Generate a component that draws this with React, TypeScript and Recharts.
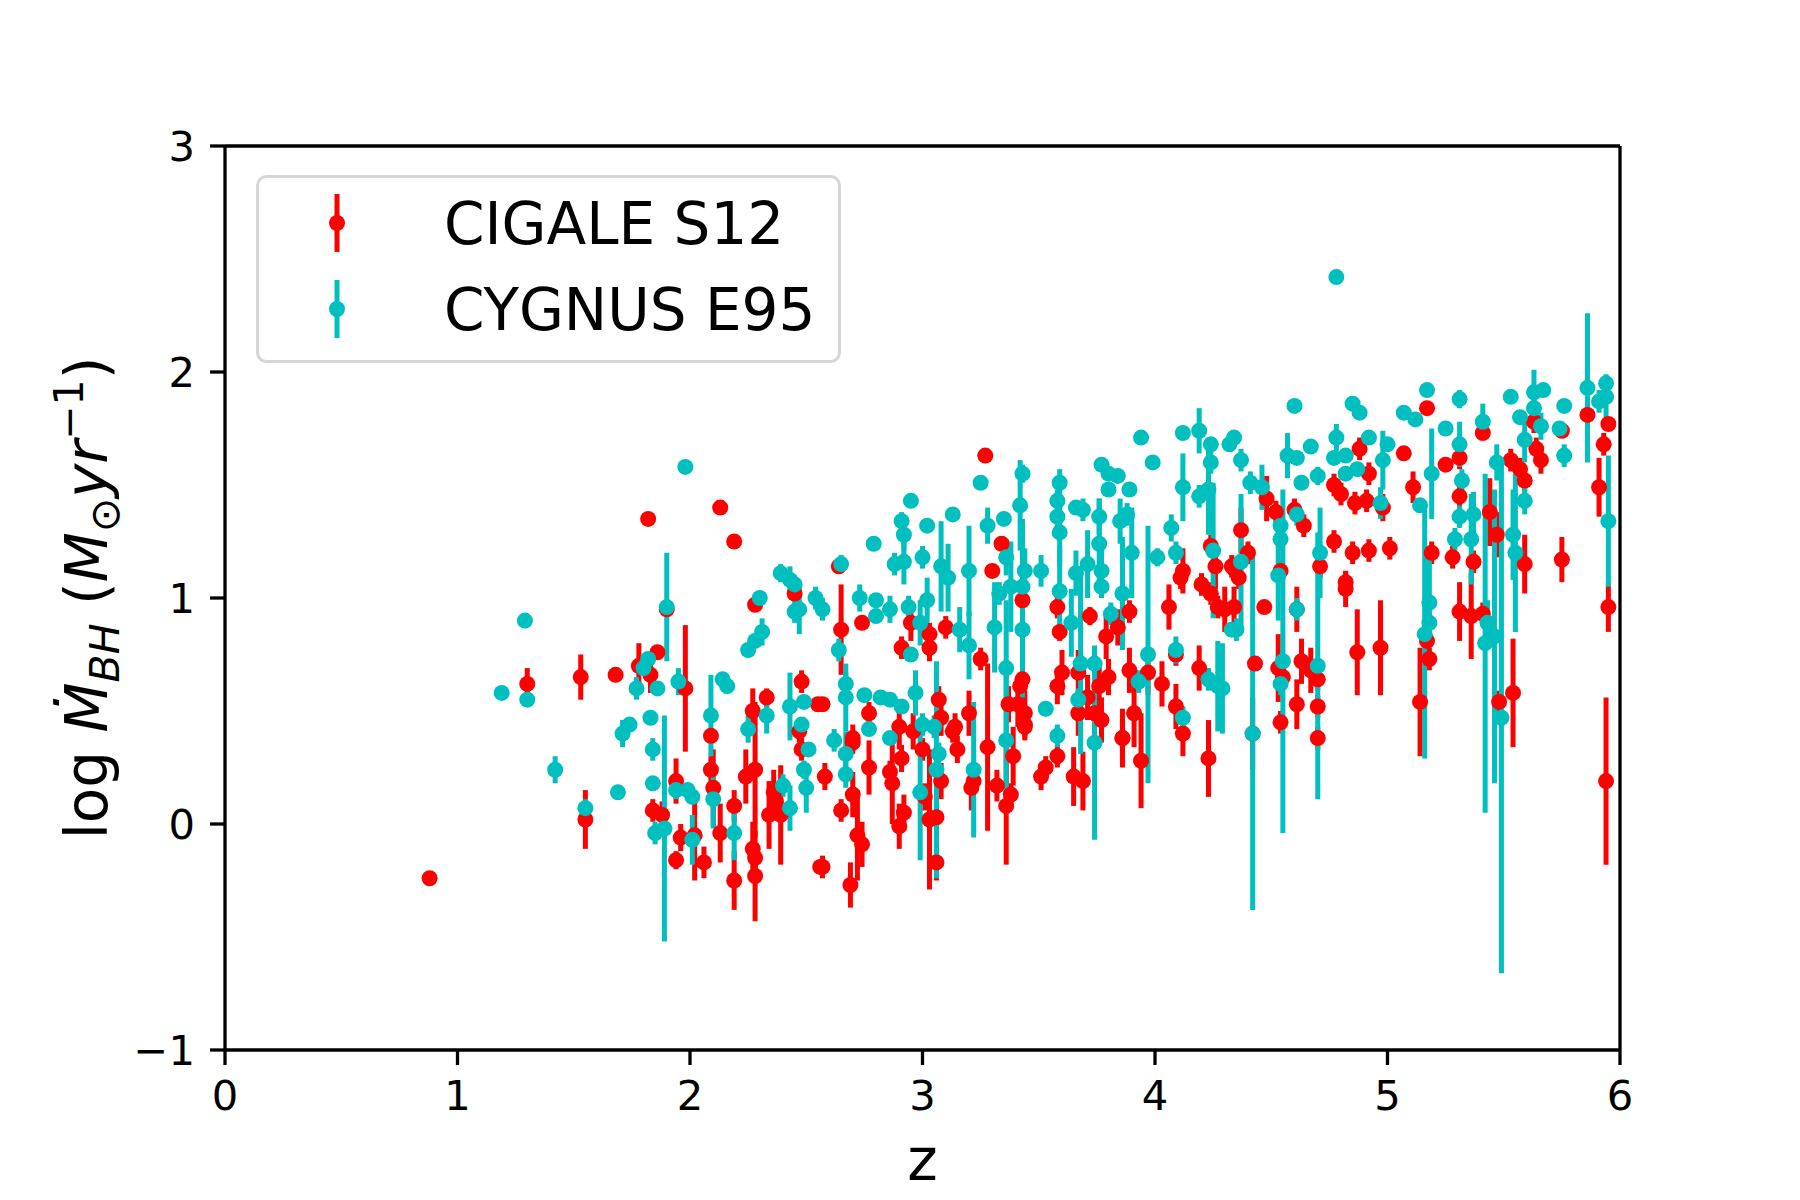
import React from 'react';
import { ScatterChart, Scatter, XAxis, YAxis, ErrorBar, Legend } from 'recharts';

// [z, log Mdot_BH, 1-sigma error]
const cigaleS12: [number, number, number][] = [
  [1.82, 1.35, 0.03], [2.13, 1.40, 0], [2.19, 1.25, 0], [1.30, 0.62, 0.07], [1.53, 0.65, 0.1],
  [1.68, 0.66, 0], [1.90, 0.95, 0.03], [1.86, 0.76, 0.03], [1.78, 0.70, 0.1], [1.83, 0.66, 0.08],
  [1.98, 0.60, 0.28], [2.09, 0.39, 0.03], [2.33, 0.56, 0.04], [2.27, 0.50, 0.1], [2.28, 0.97, 0],
  [2.45, 1.02, 0.03], [2.48, 0.63, 0.05], [2.55, 0.53, 0.02],
  [0.88, -0.24, 0], [1.55, 0.02, 0.13], [1.84, 0.06, 0.05], [1.88, 0.04, 0.06], [1.94, 0.19, 0.1],
  [1.96, -0.06, 0.06], [1.94, -0.16, 0.04], [2.02, -0.05, 0.2], [2.06, -0.17, 0.07], [2.09, 0.24, 0.06],
  [2.10, 0.16, 0.17], [2.13, -0.04, 0.13], [2.19, 0.08, 0.07], [2.19, -0.25, 0.13], [2.24, 0.21, 0.12],
  [2.28, 0.24, 0.3], [2.27, -0.11, 0.12], [2.28, -0.15, 0.05], [2.28, -0.23, 0.2], [2.36, 0.14, 0.1],
  [2.34, 0.04, 0.15], [2.39, 0.04, 0.22], [2.37, 0.10, 0.05], [2.48, 0.33, 0.05], [2.56, -0.19, 0.03],
  [2.47, 0.41, 0.05],
  [3.27, 1.63, 0], [2.64, 1.14, 0], [3.34, 1.24, 0], [3.30, 1.12, 0], [3.43, 0.99, 0.05],
  [3.58, 0.96, 0.05], [3.59, 0.85, 0.04], [3.72, 0.92, 0.04], [3.79, 0.83, 0.1], [3.84, 0.87, 0.08],
  [3.89, 0.94, 0.05], [2.65, 0.86, 0.2], [2.74, 0.89, 0.03], [2.95, 0.89, 0.08], [2.91, 0.78, 0.05],
  [3.03, 0.78, 0.06], [3.03, 0.84, 0.05], [3.10, 0.87, 0.05], [3.25, 0.73, 0.05], [4.24, 1.23, 0.05],
  [4.12, 1.12, 0.1], [4.11, 1.09, 0.05], [4.26, 1.14, 0.1], [4.20, 1.06, 0.05], [4.24, 1.02, 0.05],
  [4.27, 0.96, 0.05], [4.33, 1.14, 0.05], [4.06, 0.96, 0.1], [4.19, 0.69, 0.1], [4.09, 0.75, 0.05],
  [4.09, 0.52, 0.1], [3.97, 0.67, 0.1], [4.03, 0.62, 0.1], [3.89, 0.68, 0.1], [3.80, 0.65, 0.08],
  [3.76, 0.61, 0.1], [3.71, 0.56, 0.1], [3.67, 0.67, 0.1], [3.58, 0.61, 0.08], [3.60, 0.67, 0.1],
  [3.43, 0.64, 0.05], [3.42, 0.61, 0.06], [3.37, 0.53, 0.08], [3.44, 0.49, 0.1], [3.44, 0.44, 0.06],
  [3.41, 0.53, 0.1], [3.20, 0.49, 0.1], [3.14, 0.43, 0.06], [3.07, 0.55, 0.06], [3.08, 0.47, 0.08],
  [2.96, 0.41, 0.08], [2.90, 0.43, 0.1], [2.77, 0.49, 0.05], [2.70, 0.38, 0.06], [2.57, 0.53, 0.03],
  [3.74, 0.49, 0.1], [3.77, 0.46, 0.1], [3.67, 0.49, 0.1], [3.91, 0.49, 0.15], [3.86, 0.38, 0.1],
  [4.12, 0.40, 0.1],
  [2.58, 0.21, 0.06], [2.72, -0.05, 0.2], [2.74, -0.09, 0.1], [2.70, 0.13, 0.1], [2.65, 0.06, 0.05],
  [2.57, -0.19, 0.05], [2.69, -0.27, 0.1], [2.77, 0.25, 0.12], [2.86, 0.23, 0.05], [2.87, 0.18, 0.18],
  [2.91, 0.29, 0.06], [2.92, 0.05, 0.08], [2.90, -0.01, 0.1], [3.01, 0.12, 0.06], [3.03, 0.02, 0.31],
  [3.06, 0.03, 0.08], [3.06, -0.17, 0.08], [3.08, 0.19, 0.08], [3.00, 0.33, 0.05], [3.15, 0.33, 0.06],
  [3.13, 0.41, 0.05], [3.21, 0.16, 0.1], [3.22, 0.19, 0.05], [3.28, 0.34, 0.37], [3.32, 0.17, 0.07],
  [3.38, 0.13, 0.05], [3.36, 0.08, 0.26], [3.39, 0.30, 0.13], [3.44, 0.43, 0.06], [3.51, 0.21, 0.06],
  [3.53, 0.25, 0.05], [3.58, 0.30, 0.05], [3.65, 0.21, 0.13], [3.69, 0.19, 0.13], [3.86, 0.38, 0.13],
  [3.94, 0.28, 0.21], [4.23, 0.29, 0.17], [2.70, 0.36, 0.05],
  [5.17, 1.84, 0.03], [5.41, 1.73, 0.03], [5.07, 1.64, 0], [5.25, 1.59, 0.03], [5.31, 1.62, 0.05],
  [5.86, 1.81, 0.05], [5.95, 1.77, 0.03], [5.93, 1.68, 0.05], [5.91, 1.49, 0.13], [5.63, 1.78, 0.05],
  [5.75, 1.74, 0.03], [5.64, 1.66, 0.05], [5.66, 1.61, 0.06], [5.53, 1.61, 0.05], [5.57, 1.57, 0.05],
  [5.59, 1.52, 0.05], [5.44, 1.38, 0.15], [5.47, 1.28, 0.1], [5.31, 1.45, 0.05], [5.11, 1.49, 0.07],
  [4.88, 1.66, 0.05], [4.92, 1.55, 0.05], [4.80, 1.46, 0.05], [4.86, 1.42, 0.05], [4.91, 1.43, 0.05],
  [4.98, 1.40, 0.06], [4.77, 1.50, 0.05], [4.48, 1.44, 0.1], [4.52, 1.38, 0.05], [4.60, 1.39, 0.05],
  [4.64, 1.32, 0.05], [4.37, 1.30, 0.1], [4.40, 1.20, 0.05], [4.77, 1.25, 0.05], [4.85, 1.20, 0.05],
  [4.92, 1.21, 0.05], [5.01, 1.22, 0.05], [5.19, 1.20, 0.05], [5.75, 1.17, 0.1],
  [4.36, 1.09, 0.05], [4.34, 1.13, 0.05], [4.34, 0.96, 0.09], [4.30, 0.95, 0.1], [4.47, 0.96, 0.03],
  [4.54, 1.12, 0.05], [4.43, 0.71, 0.03], [4.53, 0.69, 0.15], [4.55, 0.65, 0.05], [4.63, 0.72, 0.1],
  [4.67, 0.68, 0.1], [4.70, 0.64, 0.05], [4.61, 0.53, 0.11], [4.70, 0.52, 0.05], [4.54, 0.45, 0.05],
  [4.70, 0.38, 0.05], [4.61, 0.95, 0.1], [4.42, 0.40, 0.16], [4.71, 1.14, 0.05], [4.82, 1.07, 0.05],
  [4.82, 1.04, 0.08], [4.87, 0.76, 0.19], [4.97, 0.78, 0.21], [5.28, 1.18, 0.05], [5.37, 1.16, 0.05],
  [5.59, 1.15, 0.13], [5.31, 0.94, 0.13], [5.36, 0.92, 0.19], [5.41, 0.93, 0.05], [5.17, 0.81, 0.05],
  [5.18, 0.73, 0.05], [5.14, 0.54, 0.24], [5.48, 0.54, 0.05], [5.54, 0.58, 0.24], [5.95, 0.96, 0.11],
  [5.94, 0.19, 0.37],
];

const cygnusE95: [number, number, number][] = [
  [1.98, 1.58, 0], [1.29, 0.90, 0], [1.19, 0.58, 0], [1.30, 0.55, 0.03], [1.90, 0.96, 0.24],
  [1.82, 0.73, 0.03], [1.80, 0.69, 0.03], [1.77, 0.60, 0.05], [1.86, 0.60, 0.03], [1.95, 0.63, 0.06],
  [2.09, 0.48, 0.18], [2.14, 0.64, 0.03], [2.16, 0.61, 0.03], [2.33, 0.48, 0.08], [2.25, 0.42, 0.06],
  [2.25, 0.77, 0.03], [2.28, 0.81, 0.03], [2.31, 0.85, 0.06], [2.30, 1.00, 0], [2.39, 1.11, 0.04],
  [2.43, 1.08, 0.06], [2.45, 1.06, 0.04], [2.45, 0.94, 0.05], [2.47, 0.95, 0.11], [2.54, 1.00, 0.05],
  [1.71, 0.40, 0.06], [1.74, 0.44, 0.03], [1.83, 0.47, 0.03], [2.43, 0.52, 0.15], [2.48, 0.44, 0.03],
  [2.49, 0.54, 0.03],
  [1.42, 0.24, 0.06], [1.55, 0.07, 0.04], [1.69, 0.14, 0], [1.84, 0.18, 0.03], [1.84, 0.33, 0.05],
  [1.89, -0.02, 0.5], [1.85, -0.04, 0.05], [1.94, 0.15, 0.04], [1.99, 0.15, 0.03], [2.01, 0.12, 0.03],
  [2.01, -0.07, 0.11], [2.10, 0.11, 0.13], [2.19, -0.04, 0.12], [2.40, 0.17, 0.05], [2.43, 0.07, 0.1],
  [2.49, 0.24, 0.04], [2.50, 0.16, 0.11], [2.51, 0.33, 0.03],
  [2.65, 1.15, 0.04], [2.79, 1.24, 0], [2.95, 1.43, 0.03], [2.91, 1.34, 0.04], [2.92, 1.28, 0.07],
  [3.02, 1.32, 0], [3.13, 1.37, 0], [3.25, 1.51, 0], [3.43, 1.55, 0.04], [3.42, 1.41, 0.2],
  [3.35, 1.35, 0.03], [3.28, 1.32, 0.08], [3.36, 1.18, 0.08], [3.59, 1.51, 0.06], [3.58, 1.43, 0.05],
  [3.58, 1.36, 0.05], [3.59, 1.29, 0.15], [3.66, 1.40, 0.03], [3.69, 1.39, 0.05], [3.77, 1.59, 0.03],
  [3.80, 1.55, 0.03], [3.84, 1.54, 0.03], [3.80, 1.48, 0], [3.89, 1.48, 0], [3.76, 1.36, 0.08],
  [3.88, 1.37, 0.05], [3.85, 1.34, 0.1], [3.94, 1.71, 0], [3.99, 1.60, 0.03], [4.12, 1.73, 0],
  [4.19, 1.74, 0.1], [4.24, 1.68, 0.03], [4.24, 1.60, 0.05], [4.12, 1.49, 0.15], [4.19, 1.45, 0.05],
  [4.23, 1.48, 0.2], [4.07, 1.31, 0.06], [4.09, 1.20, 0.05], [4.25, 1.21, 0.3], [4.01, 1.18, 0.04],
  [3.90, 1.20, 0.2], [3.76, 1.24, 0.2], [3.71, 1.15, 0.15], [3.66, 1.11, 0.1], [3.51, 1.12, 0.07],
  [3.44, 1.12, 0.1], [3.59, 1.03, 0.2], [3.77, 1.12, 0.1], [3.77, 1.05, 0.05], [3.86, 1.02, 0.25],
  [3.81, 0.93, 0.05], [3.64, 0.89, 0.15], [3.43, 0.86, 0.3], [3.31, 0.87, 0.2], [3.33, 1.02, 0.05],
  [3.38, 1.05, 0.2], [3.43, 1.05, 0.3], [3.20, 1.12, 0.2], [3.08, 1.14, 0.2], [3.11, 1.09, 0.15],
  [3.00, 1.18, 0.05], [2.88, 1.15, 0.05], [2.92, 1.16, 0.1], [2.73, 1.00, 0.06], [2.80, 0.99, 0],
  [2.86, 0.95, 0.06], [2.94, 0.96, 0.05], [3.02, 0.99, 0.1], [2.99, 0.89, 0.1], [2.80, 0.92, 0],
  [2.57, 0.95, 0.05], [2.64, 0.77, 0.05], [2.95, 0.75, 0.03], [3.16, 0.86, 0.1], [3.20, 0.79, 0.15],
  [3.36, 0.69, 0.3], [3.53, 0.51, 0], [3.68, 0.71, 0.4], [3.74, 0.71, 0.05], [3.97, 0.75, 0.57],
  [4.09, 0.77, 0.06], [3.93, 0.63, 0.05], [4.27, 0.61, 0.2], [4.23, 0.64, 0.05], [4.12, 0.47, 0.05],
  [2.67, 0.62, 0.05], [2.67, 0.56, 0.15], [2.75, 0.57, 0.03], [2.82, 0.56, 0.03], [2.86, 0.55, 0.03],
  [2.91, 0.52, 0.03], [2.97, 0.58, 0.1], [2.77, 0.42, 0.03], [2.86, 0.38, 0.03], [3.00, 0.44, 0.05],
  [3.58, 0.39, 0.05], [3.67, 0.55, 0.05], [4.33, 0.86, 0.03], [4.32, 1.68, 0.03],
  [2.62, 0.37, 0.05], [2.67, 0.31, 0.1], [2.67, 0.22, 0.06], [2.99, 0.14, 0.3], [3.05, 0.43, 0.05],
  [3.07, 0.31, 0.05], [3.06, 0.24, 0.48], [3.22, 0.24, 0.3], [3.36, 0.37, 0.3], [3.74, 0.36, 0.43],
  [4.78, 2.42, 0], [4.60, 1.85, 0], [4.85, 1.86, 0.03], [4.88, 1.82, 0], [5.07, 1.82, 0],
  [5.12, 1.79, 0], [5.17, 1.92, 0.03], [5.31, 1.88, 0.04], [5.25, 1.75, 0], [5.41, 1.78, 0.08],
  [5.53, 1.89, 0], [5.63, 1.91, 0.1], [5.67, 1.92, 0.03], [5.57, 1.80, 0.03], [5.63, 1.84, 0.05],
  [5.66, 1.76, 0.06], [5.76, 1.85, 0.03], [5.74, 1.75, 0.03], [5.76, 1.63, 0.05], [5.86, 1.93, 0.33],
  [5.91, 1.87, 0.05], [5.94, 1.95, 0.03], [5.94, 1.89, 0.1], [5.95, 1.34, 0.29], [5.59, 1.70, 0.1],
  [5.47, 1.60, 0.08], [5.31, 1.68, 0.1], [5.32, 1.52, 0.05], [5.19, 1.55, 0.2], [5.14, 1.41, 0.03],
  [4.34, 1.71, 0.03], [4.37, 1.61, 0.05], [4.41, 1.51, 0.05], [4.46, 1.49, 0.1], [4.67, 1.67, 0.03],
  [4.70, 1.54, 0.04], [4.63, 1.51, 0.03], [4.78, 1.71, 0.06], [4.77, 1.62, 0.03], [4.82, 1.63, 0.03],
  [4.87, 1.57, 0.03], [4.92, 1.71, 0.03], [5.00, 1.68, 0.03], [4.98, 1.61, 0.13], [4.82, 1.55, 0.03],
  [4.97, 1.42, 0.07], [4.61, 1.37, 0.05], [4.54, 1.32, 0.05], [4.54, 1.26, 0.05], [4.71, 1.20, 0.2],
  [5.31, 1.36, 0.05], [5.29, 1.26, 0.05], [5.37, 1.37, 0.1], [5.36, 1.26, 0.2], [5.54, 1.28, 0.2],
  [5.55, 1.20, 0.35], [5.59, 1.43, 0.06], [4.57, 1.63, 0.1], [4.61, 1.62, 0.03],
  [4.53, 1.10, 0.2], [4.61, 0.95, 0.05], [4.35, 0.86, 0.05], [4.37, 1.16, 0.3], [4.42, 0.40, 0.78],
  [4.55, 0.72, 0.76], [4.54, 0.62, 0.05], [4.70, 0.70, 0.59], [5.18, 0.98, 0.2], [5.18, 0.89, 0.05],
  [5.16, 0.84, 0.55], [5.43, 0.89, 0.1], [5.42, 0.80, 0.75], [5.46, 0.83, 0.65], [5.49, 0.47, 1.13],
  [4.29, 0.60, 0.2],
];

const seriesNames = ['CIGALE S12', 'CYGNUS E95'];
const seriesColors = ['#ff0000', '#00bfbf'];
const xTicks = [0, 1, 2, 3, 4, 5, 6];
const yTicks = [-1, 0, 1, 2, 3];

const FONT = "'DejaVu Sans', sans-serif";

const toRows = (pts: [number, number, number][]) => pts.map(([z, v, err]) => ({ z, v, err }));

const dot = (color: string) => (p: any) => <circle cx={p.cx} cy={p.cy} r={8} fill={color} />;

const tickStyle = { fill: '#000', fontSize: 41.7, fontFamily: FONT };
const lineStyle = { stroke: '#000', strokeWidth: 3.3 };

const XLabel = (props: any) => {
  const vb = props.viewBox;
  return (
    <text x={vb.x + vb.width / 2} y={1180} textAnchor="middle" fontSize={58} fontFamily={FONT} fill="#000">
      z
    </text>
  );
};

const YLabel = (props: any) => {
  const vb = props.viewBox;
  const cx = 107;
  const cy = vb.y + vb.height / 2;
  return (
    <text x={cx} y={cy} transform={`rotate(-90 ${cx} ${cy})`} textAnchor="middle" fontSize={58} fontFamily={FONT} fill="#000">
      <tspan>log </tspan>
      <tspan fontStyle="italic">Ṁ</tspan>
      <tspan fontStyle="italic" fontSize={41} dy={12}>BH</tspan>
      <tspan dy={-12}> (</tspan>
      <tspan fontStyle="italic">M</tspan>
      <tspan fontSize={41} dy={12}>⊙</tspan>
      <tspan fontStyle="italic" dy={-12}>yr</tspan>
      <tspan fontSize={41} dy={-24}>−1</tspan>
      <tspan dy={24}>)</tspan>
    </text>
  );
};

const LegendBox = () => (
  <svg width={585} height={188} style={{ display: 'block' }}>
    <rect x={1.5} y={1.5} width={582} height={185} rx={9} fill="rgba(255,255,255,0.8)" stroke="#d6d6d6" strokeWidth={3} />
    {seriesNames.map((name, i) => {
      const cy = 48 + i * 86;
      return (
        <g key={name}>
          <line x1={81} x2={81} y1={cy - 29} y2={cy + 29} stroke={seriesColors[i]} strokeWidth={5} />
          <circle cx={81} cy={cy} r={8} fill={seriesColors[i]} />
          <text x={188} y={cy} dy="0.36em" fontSize={58} fontFamily={FONT} fill="#000">
            {name}
          </text>
        </g>
      );
    })}
  </svg>
);

export default function App() {
  return (
    <div style={{ width: 1800, height: 1200, position: 'relative', background: '#fff' }}>
      <style>{'body{margin:0}'}</style>
      <ScatterChart width={1800} height={1200} margin={{ top: 136, right: 170, bottom: 90, left: 165 }}>
        <XAxis
          dataKey="z"
          type="number"
          domain={[0, 6]}
          ticks={xTicks}
          height={60}
          tickSize={15}
          tickMargin={15}
          tick={tickStyle}
          axisLine={lineStyle}
          tickLine={lineStyle}
          allowDataOverflow
          label={{ content: XLabel }}
        />
        <XAxis xAxisId="top" orientation="top" type="number" domain={[0, 6]} height={10} tick={false} tickLine={false} axisLine={lineStyle} />
        <YAxis
          dataKey="v"
          type="number"
          domain={[-1, 3]}
          ticks={yTicks}
          width={60}
          tickSize={15}
          tickMargin={15}
          tick={tickStyle}
          axisLine={lineStyle}
          tickLine={lineStyle}
          tickFormatter={(t: number) => (t < 0 ? `\u2212${Math.abs(t)}` : `${t}`)}
          allowDataOverflow
          label={{ content: YLabel }}
        />
        <YAxis yAxisId="right" orientation="right" type="number" domain={[-1, 3]} width={10} tick={false} tickLine={false} axisLine={lineStyle} />
        <Legend
          layout="horizontal"
          verticalAlign="middle"
          align="center"
          content={() => <LegendBox />}
          wrapperStyle={{ position: 'absolute', left: 256, top: 175, width: 585, height: 188 }}
        />
        <Scatter name={seriesNames[0]} data={toRows(cigaleS12)} shape={dot(seriesColors[0])} isAnimationActive={false}>
          <ErrorBar dataKey="err" direction="y" width={0} stroke={seriesColors[0]} strokeWidth={5} isAnimationActive={false} />
        </Scatter>
        <Scatter name={seriesNames[1]} data={toRows(cygnusE95)} shape={dot(seriesColors[1])} isAnimationActive={false}>
          <ErrorBar dataKey="err" direction="y" width={0} stroke={seriesColors[1]} strokeWidth={5} isAnimationActive={false} />
        </Scatter>
      </ScatterChart>
    </div>
  );
}
